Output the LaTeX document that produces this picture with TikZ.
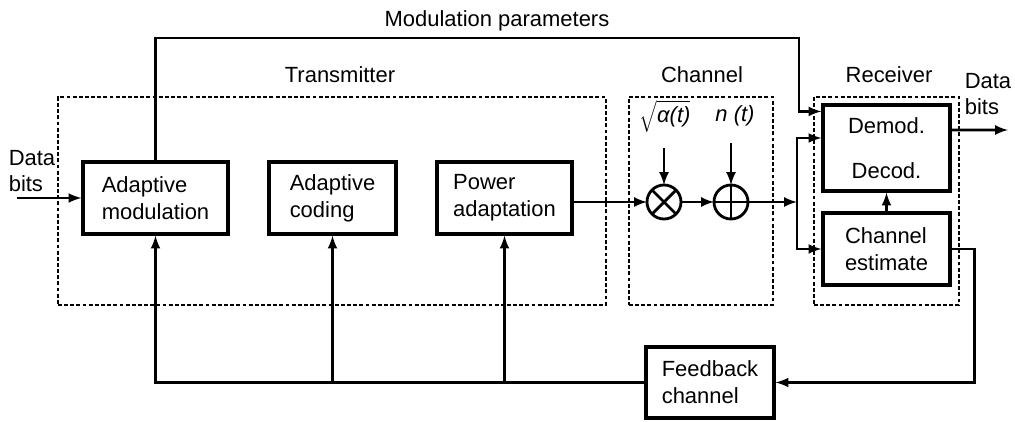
\documentclass[tikz,border=0pt]{standalone}
\usepackage{fontspec}
\setmainfont{Liberation Sans}

\tikzstyle{block} = [draw, line width=1.8pt, align=left, minimum height=1.44cm, inner sep=2pt]
\tikzstyle{group} = [draw, line width=1pt, dash pattern=on 2.2pt off 1.3pt]
\tikzstyle{mixer} = [draw, circle, line width=1.6pt, minimum size=0.68cm, inner sep=0pt, outer sep=0pt]

\begin{document}
\begin{tikzpicture}[line width=1.5pt, font=\fontsize{12.5}{15.3}\selectfont]
  \useasboundingbox (0,0) rectangle (20.3,8.42);

  % dashed groups
  \node[group, minimum width=10.96cm, minimum height=4.16cm] at (6.64,4.40) (tx) {};
  \node[group, minimum width=2.88cm, minimum height=4.16cm] at (14.02,4.40) (ch) {};
  \node[group, minimum width=2.9cm, minimum height=4.16cm] at (17.73,4.40) (rx) {};
  \node at (6.8,6.92) (txl) {Transmitter};
  \node at (14.04,6.92) (chl) {Channel};
  \node at (17.78,6.92) (rxl) {Receiver};
  \node at (9.94,8.0) (mpl) {Modulation parameters};

  \node[block, minimum width=2.9cm] at (3.11,4.46) (am) {Adaptive\\modulation};
  \node[block, minimum width=2.54cm] at (6.65,4.46) (ac) {Adaptive\\coding};
  \node[block, minimum width=2.7cm] at (10.09,4.46) (pa) {Power\\adaptation};
  \node[block, minimum width=2.56cm, minimum height=1.42cm] at (14.2,0.77) (fb) {Feedback\\channel};
  \node[block, minimum width=2.54cm, minimum height=1.72cm, align=center] at (17.73,5.46) (demod) {Demod.\\[0.36cm]Decod.};
  \node[block, minimum width=2.54cm] at (17.73,3.44) (est) {Channel\\estimate};

  \node[mixer] at (13.28,4.38) (mult) {};
  \node[mixer] at (14.62,4.38) (add) {};
  \draw[line width=1.6pt] (mult.north west) -- (mult.south east);
  \draw[line width=1.6pt] (mult.north east) -- (mult.south west);
  \draw[line width=1.6pt] (add.north) -- (add.south);
  \draw[line width=1.6pt] (add.west) -- (add.east);

  \node[inner sep=0pt] at (13.3,6.1) (alpha) {$\sqrt{\mbox{\itshape α(t)}}$};
  \node[inner sep=0pt] at (14.7,6.1) (noise) {\itshape n (t)};

  \node[align=left] at (0.64,5.0) (dinl) {Data\\bits};
  \node[align=left] at (19.76,6.54) (doutl) {Data\\bits};

  \coordinate (din) at (0.34,4.46);
  \coordinate (dout) at (20.16,5.82);
  \coordinate (mp) at (15.98,7.66);
  \coordinate (sp) at (15.94,4.38);
  \coordinate (fbin) at (19.5,0.77);

  \draw[-latex] (din) -- (am.west);
  \draw[-latex] (am.north) |- (mp) |- ([yshift=-0.16cm]demod.north west);
  \draw[-latex] (pa.east |- mult.west) -- (mult.west);
  \draw[-latex] ([yshift=-0.3cm]alpha.south -| mult.north) -- (mult.north);
  \draw[-latex] ([yshift=-0.3cm]noise.south -| add.north) -- (add.north);
  \draw[-latex] (mult.east) -- (add.west);
  \draw[-latex] (add.east) -- (sp);
  \draw[-latex] (sp) |- ([yshift=0.2cm]demod.west);
  \draw[-latex] (sp) |- (est.west);
  \draw[-latex] (est.north) -- (demod.south);
  \draw[-latex] ([yshift=0.36cm]demod.east) -- (dout);

  \draw (est.east) -- +(0.46,0) |- (fbin);
  \draw[-latex] (fbin) -- (fb.east);
  \draw[-latex] (fb.west) -| (am.south);
  \draw[-latex] (fb.west -| ac.south) -- (ac.south);
  \draw[-latex] (fb.west -| pa.south) -- (pa.south);
\end{tikzpicture}
\end{document}
